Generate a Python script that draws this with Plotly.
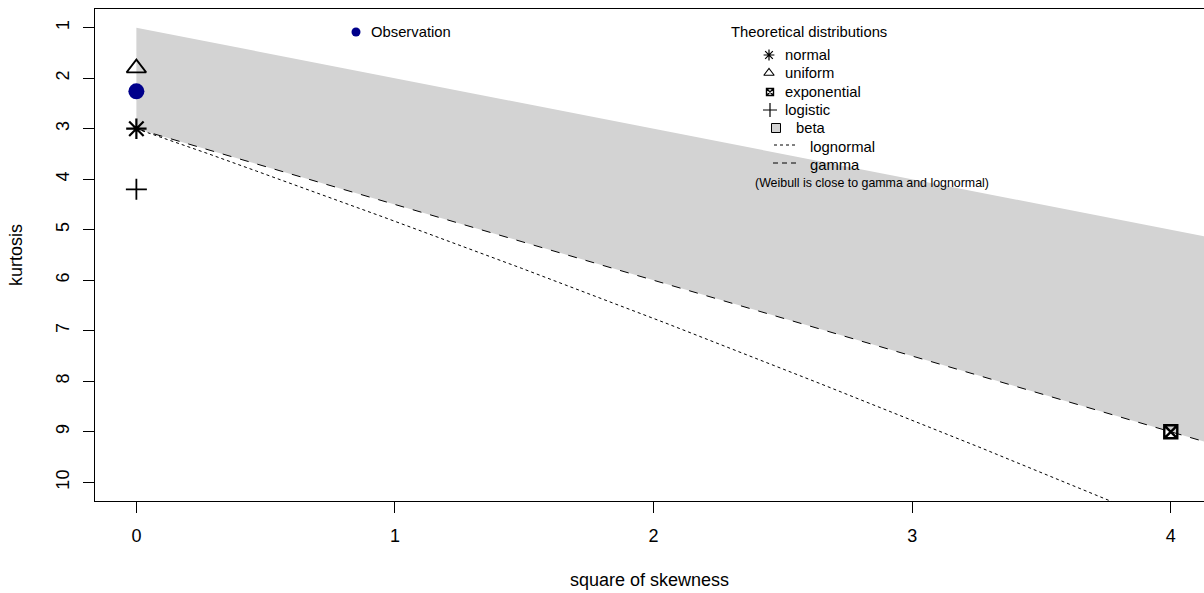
import plotly.graph_objects as go

# ---- data ----
obs_skew2 = [0.0]
obs_kurt = [2.26]

normal_skew2, normal_kurt = [0.0], [3.0]
uniform_skew2, uniform_kurt = [0.0], [1.8]
logistic_skew2, logistic_kurt = [0.0], [4.2]
expo_skew2, expo_kurt = [4.0], [9.0]

beta_region_skew2 = [0.0, 4.2, 4.2, 0.0]
beta_region_kurt = [1.0, 5.2, 9.3, 3.0]

gamma_skew2 = [0.0, 4.2]
gamma_kurt = [3.0, 9.3]

lognorm_skew2 = [0.0, 0.091, 0.182, 0.275, 0.465, 0.961, 1.488, 2.048, 2.641, 3.267, 3.928]
lognorm_kurt = [3.0, 3.16, 3.33, 3.49, 3.84, 4.76, 5.76, 6.85, 8.04, 9.32, 10.71]

x_ticks = [0, 1, 2, 3, 4]
y_ticks = [1, 2, 3, 4, 5, 6, 7, 8, 9, 10]

legend_names = ["normal", "uniform", "exponential", "logistic", "beta", "lognormal", "gamma"]

FONT = "Liberation Sans, Arial, sans-serif"
GREY = "#D3D3D3"

# layout geometry (pixels)
W, H = 1204, 593
ML, MR, MT, MB = 95, 0, 9, 92
PW, PH = W - ML - MR, H - MT - MB


def px(xp):
    return (xp - ML) / PW


def py(yp):
    return 1 - (yp - MT) / PH


fig = go.Figure()

# beta region
fig.add_trace(go.Scatter(x=beta_region_skew2, y=beta_region_kurt, mode="lines", fill="toself",
                         fillcolor=GREY, line=dict(width=0, color=GREY), showlegend=False,
                         hoverinfo="skip"))
# gamma line
fig.add_trace(go.Scatter(x=gamma_skew2, y=gamma_kurt, mode="lines",
                         line=dict(color="black", width=1, dash="dash"), showlegend=False))
# lognormal line
fig.add_trace(go.Scatter(x=lognorm_skew2, y=lognorm_kurt, mode="lines",
                         line=dict(color="black", width=1, dash="dot"), showlegend=False))
# theoretical points
fig.add_trace(go.Scatter(x=normal_skew2, y=normal_kurt, mode="markers", showlegend=False,
                         marker=dict(symbol="asterisk-open", size=17, color="black",
                                     line=dict(color="black", width=2.2))))
fig.add_trace(go.Scatter(x=uniform_skew2, y=uniform_kurt, mode="markers", showlegend=False,
                         marker=dict(symbol="triangle-up-open", size=17, color="black",
                                     line=dict(color="black", width=1.8))))
fig.add_trace(go.Scatter(x=logistic_skew2, y=logistic_kurt, mode="markers", showlegend=False,
                         marker=dict(symbol="cross-thin-open", size=15, color="black",
                                     line=dict(color="black", width=1.8))))
fig.add_trace(go.Scatter(x=expo_skew2, y=expo_kurt, mode="markers", showlegend=False,
                         marker=dict(symbol="square-x-open", size=13, color="black",
                                     line=dict(color="black", width=2.4))))
# observation
fig.add_trace(go.Scatter(x=obs_skew2, y=obs_kurt, mode="markers", showlegend=False,
                         marker=dict(symbol="circle", size=16, color="darkblue")))

# ---- manual legend glyphs on a pixel-based overlay axis ----
glyph_x = [356, 769, 769, 770, 770, 776]
glyph_y = [32, 55, 73, 92, 110, 128]
glyph_sym = ["circle", "asterisk-open", "triangle-up-open", "square-x-open", "cross-thin-open", "square"]
glyph_size = [9, 9, 9, 7, 10, 9]
glyph_col = ["darkblue", "black", "black", "black", "black", GREY]
glyph_lw = [0, 1.2, 1.1, 1.4, 1.2, 1]
for gx, gy, gs, gz, gc, gl in zip(glyph_x, glyph_y, glyph_sym, glyph_size, glyph_col, glyph_lw):
    fig.add_trace(go.Scatter(x=[gx], y=[gy], xaxis="x2", yaxis="y2", mode="markers",
                             showlegend=False, hoverinfo="skip", cliponaxis=False,
                             marker=dict(symbol=gs, size=gz, color=gc,
                                         line=dict(color="black", width=gl))))

annotations = [
    dict(text="Observation", x=px(369), y=py(32), xanchor="left"),
    dict(text="Theoretical distributions", x=px(809), y=py(32), xanchor="center"),
]
text_x = [783, 783, 783, 783, 794, 808, 808]
text_y = [55, 73, 92, 110, 128, 147, 165]
for name, tx, ty in zip(legend_names, text_x, text_y):
    annotations.append(dict(text=name, x=px(tx), y=py(ty), xanchor="left"))
for a in annotations:
    a.update(xref="paper", yref="paper", yanchor="middle", showarrow=False,
             font=dict(size=14.8, family=FONT, color="black"))
annotations.append(dict(text="(Weibull is close to gamma and lognormal)", xref="paper", yref="paper",
                        x=px(872), y=py(183), xanchor="center", yanchor="middle", showarrow=False,
                        font=dict(size=12.4, family=FONT, color="black")))

shapes = [
    dict(type="line", xref="paper", yref="paper", x0=px(774), x1=px(797), y0=py(145), y1=py(145),
         line=dict(color="black", width=1, dash="dot")),
    dict(type="line", xref="paper", yref="paper", x0=px(773), x1=px(797), y0=py(163), y1=py(163),
         line=dict(color="black", width=1, dash="5px,4px")),
]

fig.update_layout(
    width=W, height=H,
    margin=dict(l=ML, r=MR, t=MT, b=MB),
    plot_bgcolor="white", paper_bgcolor="white",
    font=dict(family=FONT, size=18, color="black"),
    showlegend=False,
    annotations=annotations,
    shapes=shapes,
    xaxis=dict(
        range=[-0.16, -0.16 + PW / 258.6],
        tickvals=x_ticks, ticktext=[str(v) for v in x_ticks],
        showgrid=False, zeroline=False,
        showline=True, linecolor="black", linewidth=1, mirror=True,
        ticks="outside", ticklen=11, tickcolor="black", tickwidth=1,
        ticklabelstandoff=7,
        title=dict(text="square of skewness", standoff=28, font=dict(size=18)),
    ),
    yaxis=dict(
        range=[10.37, 0.63],
        tickvals=y_ticks, ticktext=[str(v) for v in y_ticks],
        tickangle=-90,
        showgrid=False, zeroline=False,
        showline=True, linecolor="black", linewidth=1, mirror=False,
        ticks="outside", ticklen=11, tickcolor="black", tickwidth=1,
        ticklabelstandoff=7,
        title=dict(text="kurtosis", standoff=25, font=dict(size=18)),
    ),
    xaxis2=dict(overlaying="x", range=[ML, W - MR], visible=False, fixedrange=True),
    yaxis2=dict(overlaying="y", range=[H - MB, MT], visible=False, fixedrange=True),
)

fig.write_html("out.html", config={"displayModeBar": False},
               post_script="document.body.style.margin='0';document.body.style.overflow='hidden';")
